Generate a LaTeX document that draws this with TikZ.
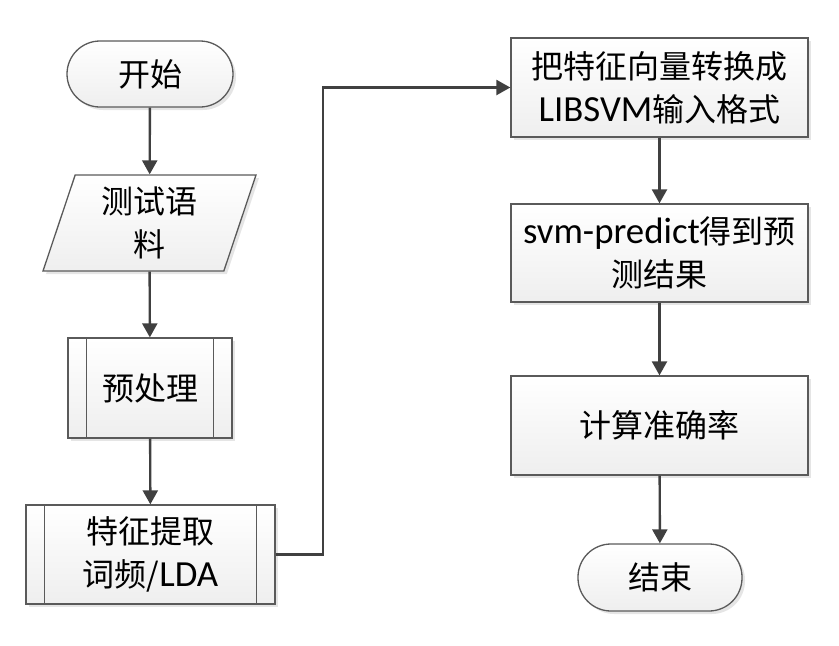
\documentclass[tikz,border=0pt]{standalone}
\usepackage{fontspec}
\setmainfont{Noto Sans CJK SC}
\newfontfamily\lat[Scale=1.15]{Carlito}
\usetikzlibrary{arrows.meta}
\usetikzlibrary{shapes.geometric}
\usetikzlibrary{shadows}
\definecolor{edgegray}{HTML}{5A5A5A}
\definecolor{wiregray}{HTML}{404040}

\begin{document}
\begin{tikzpicture}[x=1pt,y=-1pt,
  box/.style={draw=edgegray, line width=1.3pt, top color=white, bottom color=gray!13,
    drop shadow={shadow xshift=3pt, shadow yshift=-3pt, fill=gray!40, opacity=.5},
    align=center, inner sep=0pt, font=\fontsize{32}{43}\selectfont},
  term/.style={box, rounded corners=33pt},
  wire/.style={wiregray, line width=2.4pt}]
\def\l{14pt}
\def\w{15pt}
\def\g{19pt}
\useasboundingbox (0,0) rectangle (839,646);

\node [term, minimum width=166, minimum height=66, name=start]   at (150,74) {开始};
\node [box, trapezium, trapezium left angle=66, trapezium right angle=114, trapezium stretches body,
       minimum width=213, minimum height=96, name=corpus]       at (149.5,223) {测试语\\料};
\node [box, minimum width=164, minimum height=100, name=pre]    at (150,388) {预处理};
\node [box, minimum width=249, minimum height=99, name=feat]    at (150.5,554.5) {特征提取\\词频/{\lat LDA}};
\node [box, minimum width=297, minimum height=99, name=conv]    at (659.5,87.5) {把特征向量转换成\\{\lat LIBSVM}输入格式};
\node [box, minimum width=297, minimum height=98, name=pred]    at (659.5,253) {{\lat svm-predict}得到预\\测结果};
\node [box, minimum width=297, minimum height=99, name=acc]     at (659.5,425.5) {计算准确率};
\node [term, minimum width=164, minimum height=67, name=stop]    at (660,577.5) {结束};
\coordinate (bend) at (323,554.5);

% inner bars of the process boxes
\draw [edgegray, line width=1.3pt] ([xshift=\g]pre.north west) -- ([xshift=\g]pre.south west);
\draw [edgegray, line width=1.3pt] ([xshift=-\g]pre.north east) -- ([xshift=-\g]pre.south east);
\draw [edgegray, line width=1.3pt] ([xshift=\g]feat.north west) -- ([xshift=\g]feat.south west);
\draw [edgegray, line width=1.3pt] ([xshift=-\g]feat.north east) -- ([xshift=-\g]feat.south east);

\draw [wire, -{Triangle[length=\l, width=\w]}](start) to (corpus);
\draw [wire, -{Triangle[length=\l, width=\w]}](corpus) to (pre);
\draw [wire, -{Triangle[length=\l, width=\w]}](pre) to (feat);
\draw [wire, -{Triangle[length=\l, width=\w]}](feat) -- (bend) |- (conv);
\draw [wire, -{Triangle[length=\l, width=\w]}](conv) to (pred);
\draw [wire, -{Triangle[length=\l, width=\w]}](pred) to (acc);
\draw [wire, -{Triangle[length=\l, width=\w]}](acc) to (stop);
\end{tikzpicture}
\end{document}
